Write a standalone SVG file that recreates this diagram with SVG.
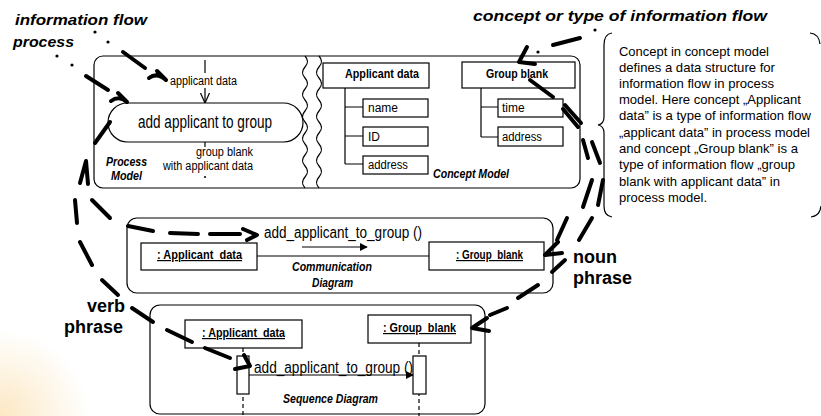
<svg xmlns="http://www.w3.org/2000/svg" width="821" height="416" viewBox="0 0 821 416">
<defs>
<style>
.b{fill:#fff;stroke:#000;stroke-width:1.2}
.bn{fill:none;stroke:#000;stroke-width:1.2}
.t{font-family:"Liberation Sans",Arial,sans-serif;font-size:12px;fill:#000}
.tb{font-family:"Liberation Sans",Arial,sans-serif;font-size:12px;font-weight:bold;fill:#000}
.ti{font-family:"Liberation Sans",Arial,sans-serif;font-size:12px;font-weight:bold;font-style:italic;fill:#000}
.lab{font-family:"Liberation Sans",Arial,sans-serif;font-size:15px;font-weight:bold;font-style:italic;fill:#000}
.big{font-family:"Liberation Sans",Arial,sans-serif;font-size:18px;font-weight:bold;fill:#000}
.d{fill:none;stroke:#000;stroke-width:4;stroke-linecap:round;stroke-linejoin:round}
.u{text-decoration:underline}
</style>
<marker id="fa" viewBox="0 0 10 10" refX="9" refY="5" markerWidth="8" markerHeight="8" orient="auto" markerUnits="userSpaceOnUse">
<path d="M0,0 L10,5 L0,10 z" fill="#000"/>
</marker>
<radialGradient id="og" cx="0" cy="1" r="1">
<stop offset="0" stop-color="#fbe2b4" stop-opacity="0.8"/>
<stop offset="1" stop-color="#fbe2b4" stop-opacity="0"/>
</radialGradient>
</defs>
<rect width="821" height="416" fill="#fff"/>
<rect x="0" y="330" width="90" height="86" fill="url(#og)"/>

<!-- labels -->
<g id="labels">
<text class="lab" x="15" y="25" textLength="132" lengthAdjust="spacingAndGlyphs">information flow</text>
<text class="lab" x="13" y="47" textLength="61" lengthAdjust="spacingAndGlyphs">process</text>
<text class="lab" x="473" y="21" textLength="294" lengthAdjust="spacingAndGlyphs">concept or type of information flow</text>
<text class="big" x="573" y="263">noun</text>
<text class="big" x="573" y="284">phrase</text>
<text class="big" x="87" y="312">verb</text>
<text class="big" x="64" y="333">phrase</text>
</g>

<!-- top box: process model + concept model -->
<g id="top-frame">
<rect class="b" x="94" y="56" width="486" height="132" rx="9"/>
<path class="bn" d="M305,56 q5,5.5 0,11 t0,11 t0,11 t0,11 t0,11 t0,11 t0,11 t0,11 t0,11 t0,11 t0,11 t0,11" fill="#fff"/>
<path class="bn" d="M319,56 q5,5.5 0,11 t0,11 t0,11 t0,11 t0,11 t0,11 t0,11 t0,11 t0,11 t0,11 t0,11 t0,11"/>
</g>

<g id="process-model">
<line class="bn" x1="205" y1="60" x2="205" y2="73"/>
<text class="t" x="170" y="85" textLength="67" lengthAdjust="spacingAndGlyphs">applicant data</text>
<line class="bn" x1="205" y1="88" x2="205" y2="103"/>
<path class="bn" d="M200.5,93 L205,103 L209.5,93"/>
<rect class="b" x="108" y="103" width="195" height="39" rx="19.5"/>
<text x="138" y="128" textLength="134" lengthAdjust="spacingAndGlyphs" style="font-family:'Liberation Sans',Arial,sans-serif;font-size:17.5px">add applicant to group</text>
<line class="bn" x1="205" y1="142" x2="205" y2="147"/>
<text class="t" x="196" y="156" textLength="57" lengthAdjust="spacingAndGlyphs">group blank</text>
<text class="t" x="163" y="170" textLength="90" lengthAdjust="spacingAndGlyphs">with applicant data</text>
<circle cx="205" cy="177" r="1" fill="#000"/>
<text class="ti" x="106" y="166" textLength="41" lengthAdjust="spacingAndGlyphs">Process</text>
<text class="ti" x="111" y="180" textLength="31" lengthAdjust="spacingAndGlyphs">Model</text>
</g>

<g id="concept-applicant-data">
<rect class="b" x="323" y="63" width="106" height="25"/>
<text class="tb" x="345" y="78" textLength="74" lengthAdjust="spacingAndGlyphs">Applicant data</text>
<path class="bn" d="M345,88 V164 M345,107 H363 M345,136 H363 M345,164 H363"/>
<rect class="b" x="363" y="99" width="65" height="18"/>
<text class="t" x="368" y="112">name</text>
<rect class="b" x="363" y="127" width="65" height="19"/>
<text class="t" x="368" y="141">ID</text>
<rect class="b" x="363" y="156" width="65" height="18"/>
<text class="t" x="368" y="169" textLength="40" lengthAdjust="spacingAndGlyphs">address</text>
</g>

<g id="concept-group-blank">
<rect class="b" x="462" y="62" width="113" height="26"/>
<text class="tb" x="486" y="78" textLength="62" lengthAdjust="spacingAndGlyphs">Group blank</text>
<path class="bn" d="M481,88 V137 M481,107 H498 M481,137 H498"/>
<rect class="b" x="498" y="99" width="65" height="18"/>
<text class="t" x="502" y="112">time</text>
<rect class="b" x="498" y="127" width="65" height="19"/>
<text class="t" x="502" y="141" textLength="40" lengthAdjust="spacingAndGlyphs">address</text>
<text class="ti" x="433" y="178" textLength="76" lengthAdjust="spacingAndGlyphs">Concept Model</text>
</g>

<g id="note">
<path class="bn" d="M612,33 Q604,34 604,45 V117 Q604,124 598,125 Q604,126 604,133 V206 Q604,216 612,217"/>
<path class="bn" d="M810,33 Q819,34 820,44"/>
<path class="bn" d="M821,206 Q820,216 811,217"/>
<g style="font-family:'Liberation Sans',Arial,sans-serif;font-size:13px" fill="#000">
<text x="619" y="56" textLength="150" lengthAdjust="spacingAndGlyphs">Concept in concept model</text>
<text x="619" y="72" textLength="156" lengthAdjust="spacingAndGlyphs">defines a data structure for</text>
<text x="619" y="88" textLength="155" lengthAdjust="spacingAndGlyphs">information flow in process</text>
<text x="619" y="104" textLength="182" lengthAdjust="spacingAndGlyphs">model. Here concept „Applicant</text>
<text x="619" y="120" textLength="192" lengthAdjust="spacingAndGlyphs">data” is a type of information flow</text>
<text x="619" y="137" textLength="191" lengthAdjust="spacingAndGlyphs">„applicant data” in process model</text>
<text x="619" y="153" textLength="179" lengthAdjust="spacingAndGlyphs">and concept „Group blank” is a</text>
<text x="619" y="169" textLength="176" lengthAdjust="spacingAndGlyphs">type of information flow „group</text>
<text x="619" y="186" textLength="161" lengthAdjust="spacingAndGlyphs">blank with applicant data” in</text>
<text x="619" y="202" textLength="88" lengthAdjust="spacingAndGlyphs">process model.</text>
</g>
</g>

<g id="communication-diagram">
<rect class="b" x="127" y="218" width="426" height="75" rx="10"/>
<line class="bn" x1="257" y1="256" x2="429" y2="256"/>
<rect class="b" x="141" y="243" width="116" height="27"/>
<text class="tb u" x="157" y="259" textLength="85" lengthAdjust="spacingAndGlyphs">: Applicant_data</text>
<rect class="b" x="429" y="242" width="115" height="28"/>
<text class="tb u" x="456" y="259" textLength="67" lengthAdjust="spacingAndGlyphs">: Group_blank</text>
<text x="264" y="238" textLength="158" lengthAdjust="spacingAndGlyphs" style="font-family:'Liberation Sans',Arial,sans-serif;font-size:16px">add_applicant_to_group ()</text>
<line x1="302" y1="247" x2="367" y2="247" stroke="#000" stroke-width="1.2" marker-end="url(#fa)"/>
<text class="ti" x="292" y="271" textLength="80" lengthAdjust="spacingAndGlyphs">Communication</text>
<text class="ti" x="312" y="287" textLength="41" lengthAdjust="spacingAndGlyphs">Diagram</text>
</g>

<g id="sequence-diagram">
<rect class="b" x="150" y="305" width="335" height="109" rx="10"/>
<line x1="243" y1="348" x2="243" y2="416" stroke="#000" stroke-width="1.2" stroke-dasharray="4,3"/>
<line x1="419" y1="343" x2="419" y2="416" stroke="#000" stroke-width="1.2" stroke-dasharray="4,3"/>
<rect class="b" x="185" y="320" width="117" height="28"/>
<text class="tb u" x="202" y="337" textLength="83" lengthAdjust="spacingAndGlyphs">: Applicant_data</text>
<rect class="b" x="368" y="315" width="103" height="28"/>
<text class="tb u" x="383" y="332" textLength="73" lengthAdjust="spacingAndGlyphs">: Group_blank</text>
<rect class="b" x="237" y="356" width="12" height="38"/>
<rect class="b" x="413" y="356" width="13" height="38"/>
<line x1="249" y1="375" x2="413" y2="375" stroke="#000" stroke-width="1.2" marker-end="url(#fa)"/>
<text x="254" y="373" textLength="159" lengthAdjust="spacingAndGlyphs" style="font-family:'Liberation Sans',Arial,sans-serif;font-size:16px">add_applicant_to_group ()</text>
<text class="ti" x="283" y="403" textLength="95" lengthAdjust="spacingAndGlyphs">Sequence Diagram</text>
</g>

<g id="connectors">
<!-- information flow -> applicant data -->
<circle cx="95" cy="32" r="1.6" fill="#000"/>
<circle cx="108" cy="42" r="1.6" fill="#000"/>
<line class="d" x1="123" y1="52" x2="145" y2="68"/>
<path class="d" d="M149,78 Q157,72 166,80 M157,71 L166,80"/>
<!-- process -> activity -->
<circle cx="57" cy="56" r="1.6" fill="#000"/>
<circle cx="72" cy="65" r="1.6" fill="#000"/>
<line class="d" x1="86" y1="76" x2="108" y2="90"/>
<path class="d" d="M111,101 Q119,95 127,102 M118,93 L127,102"/>
<!-- verb phrase: activity -> sequence message -->
<line class="d" x1="110" y1="122" x2="95" y2="143"/>
<path class="d" d="M80,183 L86,161 L88,184"/>
<line class="d" x1="75" y1="200" x2="77" y2="223"/>
<line class="d" x1="80" y1="242" x2="92" y2="265"/>
<line class="d" x1="102" y1="280" x2="118" y2="295"/>
<line class="d" x1="132" y1="308" x2="153" y2="322"/>
<line class="d" x1="167" y1="330" x2="192" y2="342"/>
<line class="d" x1="205" y1="348" x2="230" y2="358"/>
<path class="d" d="M235,369 L250,366 L244,355"/>
<!-- verb phrase: -> communication message -->
<line class="d" x1="92" y1="200" x2="110" y2="218"/>
<line class="d" x1="128" y1="226" x2="153" y2="231"/>
<line class="d" x1="170" y1="233" x2="198" y2="234"/>
<line class="d" x1="210" y1="234" x2="240" y2="234"/>
<path class="d" d="M243,229 L257,235 L247,240"/>
<!-- concept label -> Group blank -->
<circle cx="595" cy="30" r="1.6" fill="#000"/>
<line class="d" x1="553" y1="45" x2="580" y2="38"/>
<circle cx="538" cy="52" r="1.6" fill="#000"/>
<path class="d" d="M519,62 L527,47 M519,62 L535,64"/>
<!-- noun phrase -->
<line class="d" x1="530" y1="80" x2="553" y2="97"/>
<path class="d" d="M565,105 L581,123 M563,109 L578,127"/>
<line class="d" x1="583" y1="140" x2="588" y2="158"/>
<line class="d" x1="592" y1="180" x2="583" y2="207"/>
<line class="d" x1="567" y1="218" x2="557" y2="240"/>
<path class="d" d="M558,242 L545,255 L562,253"/>
<line class="d" x1="592" y1="142" x2="600" y2="163"/>
<line class="d" x1="603" y1="180" x2="598" y2="205"/>
<line class="d" x1="592" y1="218" x2="579" y2="240"/>
<line class="d" x1="565" y1="260" x2="552" y2="272"/>
<line class="d" x1="538" y1="285" x2="518" y2="298"/>
<line class="d" x1="507" y1="308" x2="490" y2="315"/>
<path class="d" d="M487,318 L472,328 L489,331"/>
</g>
</svg>
